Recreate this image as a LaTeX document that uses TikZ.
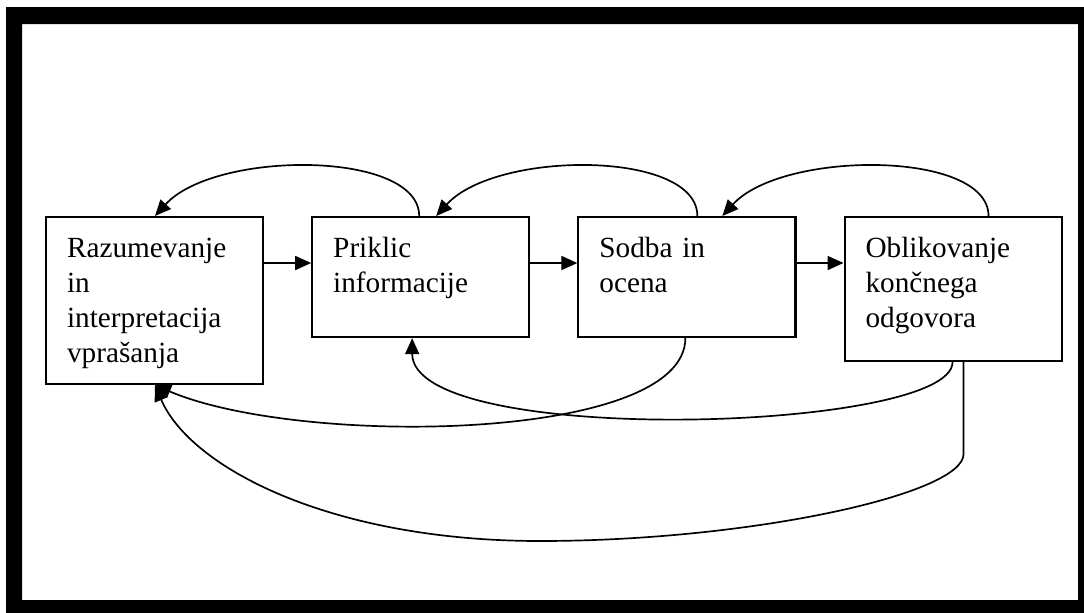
\documentclass[tikz,border=0pt]{standalone}
\usepackage{fontspec}
\setmainfont{Liberation Serif}
\usetikzlibrary{arrows.meta,positioning,calc}

\tikzset{
  stage/.style={draw, line width=1.5pt, anchor=north west, minimum width=5.425cm,
    text width=4.375cm, inner xsep=0.525cm, inner ysep=0pt, align=left,
    text height=1.01cm, font=\fontsize{20.8}{24.9}\selectfont},
  flow/.style={line width=1.2pt, -{Triangle[length=0.4cm,width=0.35cm]}}
}

\begin{document}
\begin{tikzpicture}[x=0.025cm, y=-0.025cm]

\useasboundingbox (0,0) rectangle (1084,612);
\clip (0,0) rectangle (1084,612);

% frame
\fill[even odd rule] (6,7) rectangle (1100,630) (22,24) rectangle (1078,600);

\node[stage, text depth=3.165cm] (razum) at (45,216) {Razumevanje\\ in\\ interpretacija\\ vprašanja};
\node[stage, text depth=1.99cm, right=1.175cm of razum.north east, anchor=north west] (priklic) {Priklic\\ informacije};
\node[stage, text depth=1.99cm, right=1.175cm of priklic.north east, anchor=north west] (sodba) {Sodba in\\ ocena};
\node[stage, text depth=2.59cm, right=1.175cm of sodba.north east, anchor=north west] (oblik) {Oblikovanje\\ končnega\\ odgovora};

\draw[flow] ($(razum.north east)+(0,47)$) -- ($(priklic.north west)+(0,47)$);
\draw[flow] ($(priklic.north east)+(0,47)$) -- ($(sodba.north west)+(0,47)$);
\draw[flow] ($(sodba.north east)+(0,47)$) -- ($(oblik.north west)+(0,47)$);

% back arcs over the top
\draw[flow] ($(priklic.north west)+(108,0)$) .. controls +(0,-66) and +(60,-66) .. ($(razum.north west)+(110,0)$);
\draw[flow] ($(sodba.north west)+(120,0)$) .. controls +(0,-66) and +(60,-66) .. ($(priklic.north west)+(125,0)$);
\draw[flow] ($(oblik.north west)+(145,0)$) .. controls +(0,-66) and +(60,-66) .. ($(sodba.north west)+(145,0)$);

% back curves underneath
\draw[flow] ($(sodba.south west)+(108,0)$) .. controls +(0,104) and +(145,62) .. ($(razum.south west)+(110,0)$);
\draw[flow] ($(oblik.south west)+(109,0)$) .. controls +(0,70) and +(0,110) .. ($(priklic.south west)+(101,0)$);

\coordinate (low) at (540,541);
\draw[flow] ($(oblik.south west)+(120,0)$) -- ++(0,92) .. controls +(0,40) and +(210,0) .. (low)
  .. controls +(-210,0) and +(35,82) .. ($(razum.south west)+(110,0)$);

\end{tikzpicture}
\end{document}
